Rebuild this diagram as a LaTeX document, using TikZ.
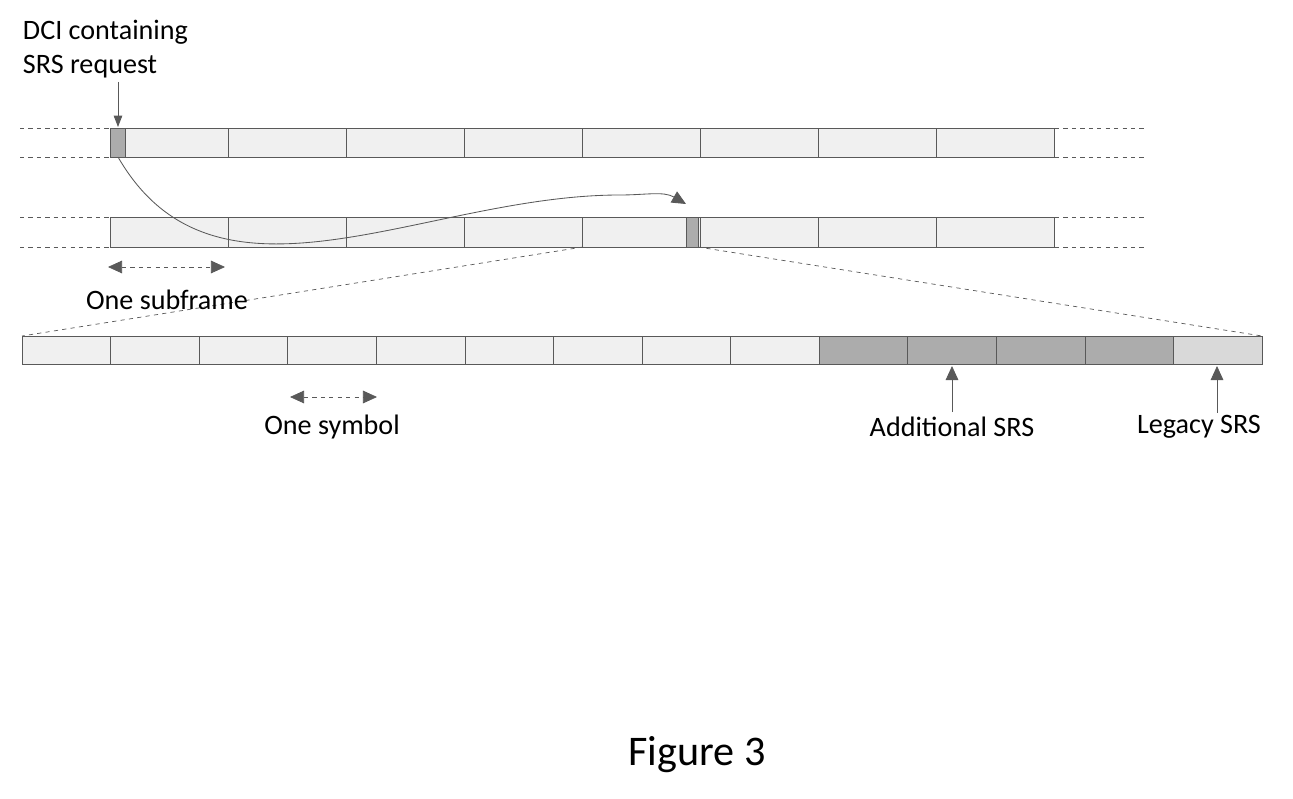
\documentclass[tikz,border=0pt]{standalone}
\usepackage{fontspec}
\setmainfont{Carlito}
\usetikzlibrary{arrows.meta,positioning}
\begin{document}
\begin{tikzpicture}[x=0.025cm, y=-0.025cm, >={Triangle[width=9pt,length=10pt]}, font=\fontsize{20}{24}\selectfont]
\tikzset{cell/.style={draw=gray!70!black, fill=gray!12, line width=0.5pt},
  srs/.style={draw=gray!70!black, fill=gray!65, line width=0.5pt},
  guide/.style={dashed, gray!70!black, line width=0.5pt},
  pointer/.style={->, gray!70!black, line width=0.6pt}}
\useasboundingbox (0,0) rectangle (1293,799);
% subframe rows
\foreach \r/\ya/\yb in {top/128/157, mid/217/247} {
  \draw[guide] (20,\ya) -- (110,\ya) (20,\yb) -- (110,\yb);
  \draw[guide] (1055,\ya) -- (1145,\ya) (1055,\yb) -- (1145,\yb);
  \foreach \i in {0,...,7}
    \draw[cell] ({110+118.1*\i},\ya) rectangle ({110+118.1*(\i+1)},\yb);
}
\draw[srs] (110,128) rectangle (125,157);
\draw[srs] (686,217) rectangle (698,247);
\coordinate (dci) at (118,157);
\coordinate (tgt) at (686,204);
% symbols of one subframe
\foreach \i in {0,...,13} {
  \pgfmathsetmacro\xa{22+88.57*\i}
  \pgfmathsetmacro\xb{22+88.57*(\i+1)}
  \ifnum\i<9 \draw[cell] (\xa,336) rectangle (\xb,364);
  \else\ifnum\i<13 \draw[srs] (\xa,336) rectangle (\xb,364);
  \else \draw[cell, fill=gray!30] (\xa,336) rectangle (\xb,364); \fi\fi
}
\draw[guide] (583,247) -- (22,336);
\draw[guide] (698,247) -- (1262,336);
% labels
\node[align=left, anchor=north west] (dcitext) at (18,15) {DCI containing\\SRS request};
\draw[pointer, >={Triangle[width=6pt,length=8pt]}] (118,82) -- (118,127);
\draw[gray!70!black, line width=0.6pt, ->] (dci) to[out=-60, in=180] (620,195) to[out=0, in=150] (tgt);
\draw[guide, <->] (108,267) -- (225,267);
\node (subframe) at (167,300) {One subframe};
\draw[guide, <->] (290,397) -- (377,397);
\node (symbol) at (332,427) {One symbol};
\node (additional) at (952,427) {Additional SRS};
\draw[pointer] (additional.north) -- (952,366);
\node (legacy) at (1199,427) {Legacy SRS};
\draw[pointer] (1217,413) -- (1217,366);
\node[font=\fontsize{30}{36}\selectfont] (fig) at (697,755) {Figure 3};
\end{tikzpicture}
\end{document}
